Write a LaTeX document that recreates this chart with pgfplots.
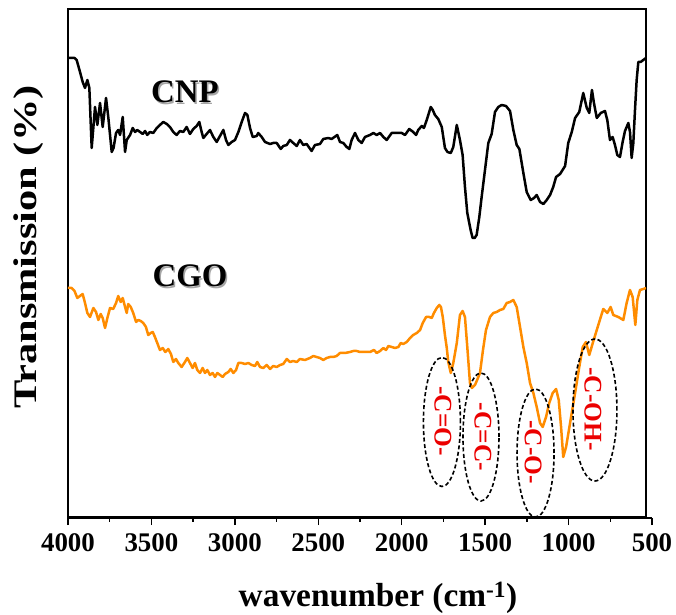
\documentclass[border=0pt]{standalone}
\usepackage{fontspec}
\setmainfont{Liberation Serif}
\usepackage{pgfplots}
\pgfplotsset{compat=1.18}
\usepackage{pgfplotstable}
\definecolor{cgoorange}{RGB}{255,140,0}
\definecolor{bandred}{RGB}{235,0,0}

% FTIR spectrum of CNP (wavenumber in cm^-1, transmission in a.u.)
\pgfplotstableread{
wn T
4000 459
3978 459
3961 459
3948 457
3928 445
3912 435
3898 429
3884 437
3872 429
3858 369
3838 410
3824 392
3808 414
3792 390
3772 419
3758 399
3738 365
3727 369
3712 384
3699 387
3688 382
3672 400
3658 365
3648 377
3628 382
3612 389
3598 385
3585 387
3568 385
3552 383
3538 386
3525 382
3509 385
3489 384
3468 389
3449 392
3429 395
3408 393
3389 390
3369 385
3349 382
3329 386
3309 385
3289 390
3269 383
3249 388
3229 391
3213 395
3199 385
3189 379
3169 383
3149 387
3129 380
3109 375
3089 381
3069 387
3053 377
3039 372
3019 375
2999 377
2979 385
2959 395
2939 404
2925 402
2909 389
2893 380
2869 381
2860 384
2839 380
2819 375
2789 373
2770 374
2749 374
2725 368
2710 371
2689 372
2670 377
2650 374
2629 371
2610 377
2590 372
2570 373
2540 366
2520 372
2490 373
2470 378
2440 379
2420 378
2386 382
2370 375
2350 374
2330 370
2314 368
2300 377
2280 384
2260 377
2240 374
2220 380
2190 382
2170 384
2150 382
2130 384
2110 380
2090 377
2060 384
2030 384
2000 384
1980 382
1955 388
1931 385
1914 382
1901 387
1880 391
1867 389
1850 397
1826 410
1814 407
1801 402
1781 398
1760 390
1741 369
1726 365
1706 364
1691 370
1670 392
1651 377
1635 362
1621 330
1607 304
1587 287
1575 279
1563 279
1551 282
1535 300
1521 320
1501 347
1481 374
1461 383
1441 405
1421 410
1401 412
1375 411
1351 406
1331 387
1311 372
1295 368
1271 344
1251 325
1227 317
1207 319
1191 322
1171 315
1151 313
1131 317
1111 322
1092 330
1075 340
1051 343
1021 351
1002 374
981 385
961 399
936 405
912 424
891 409
876 404
860 427
848 414
831 399
807 404
782 406
768 397
752 377
736 380
722 372
708 362
692 360
676 375
662 386
642 394
632 385
622 359
612 374
602 407
592 437
582 455
568 455
552 457
536 459
}\cnpdata

% FTIR spectrum of CGO
\pgfplotstableread{
wn T
4000 229
3978 229
3961 226
3944 219
3928 221
3912 223
3898 214
3884 204
3868 200
3848 209
3832 205
3818 197
3804 203
3792 199
3778 189
3764 199
3748 209
3729 208
3712 214
3699 221
3684 215
3672 219
3658 210
3648 204
3639 213
3624 210
3609 204
3592 195
3579 197
3564 196
3549 194
3533 190
3519 182
3504 184
3492 185
3479 180
3465 174
3449 167
3432 169
3417 165
3399 168
3383 163
3369 155
3353 158
3339 154
3319 150
3299 155
3285 159
3269 154
3253 149
3239 154
3225 147
3209 144
3193 149
3179 144
3165 147
3149 142
3133 144
3119 140
3105 144
3089 142
3073 140
3059 143
3039 145
3025 148
3009 144
2993 147
2979 154
2959 154
2939 153
2919 154
2899 152
2879 151
2866 155
2849 150
2830 149
2809 152
2789 148
2770 151
2749 150
2729 152
2710 153
2689 158
2670 155
2650 156
2629 155
2610 158
2580 157
2550 159
2530 161
2510 160
2490 159
2470 157
2450 159
2430 160
2410 160
2390 161
2370 164
2340 164
2310 165
2290 166
2270 166
2250 165
2230 165
2210 165
2190 165
2166 167
2150 164
2130 166
2110 169
2094 167
2080 171
2060 170
2040 169
2020 170
2006 174
1991 173
1970 175
1950 179
1931 182
1910 184
1890 187
1874 194
1854 200
1835 200
1820 199
1807 204
1790 209
1775 212
1765 210
1754 200
1741 182
1730 169
1721 155
1706 144
1691 154
1670 174
1651 202
1635 206
1621 200
1607 170
1591 134
1579 129
1561 132
1543 139
1531 144
1513 167
1495 187
1471 200
1451 204
1431 205
1411 207
1391 208
1371 214
1351 215
1331 217
1311 210
1291 190
1271 170
1251 154
1231 134
1211 124
1191 110
1171 94
1155 90
1135 100
1116 114
1095 124
1075 128
1059 117
1045 90
1032 60
1015 70
991 94
961 124
936 150
915 170
896 175
876 162
855 174
831 187
807 200
792 208
768 204
748 210
732 202
702 200
672 197
652 214
632 227
616 220
600 192
588 217
572 227
552 228
536 229
}\cgodata

\begin{document}
\begin{tikzpicture}[x=1bp,y=1bp]
\path[use as bounding box] (-68,-98) rectangle (608,517);

% framed plot area with the two spectra
\begin{axis}[
  at={(0,0)}, anchor=south west,
  scale only axis, width=578bp, height=508bp,
  xmin=536, xmax=4000, x dir=reverse,
  ymin=0, ymax=508,
  xtick=\empty, ytick=\empty,
  axis line style={line width=2.8bp},
]
\addplot[black, line width=2.5bp, line join=round] table[x=wn, y=T] {\cnpdata};
\addplot[cgoorange, line width=2.5bp, line join=round] table[x=wn, y=T] {\cgodata};

% band assignments
\begin{scope}[black, line width=1.6bp, dash pattern=on 4bp off 2.5bp]
  \draw (axis cs:1759,95) ellipse [x radius=18.5bp, y radius=64.5bp];
  \draw (axis cs:1525,80) ellipse [x radius=18bp, y radius=64bp];
  \draw (axis cs:1198,64) ellipse [x radius=18.5bp, y radius=64bp];
  \draw (axis cs:842,107) ellipse [x radius=22bp, y radius=71bp];
\end{scope}
\begin{scope}[every node/.style={text=bandred, rotate=-90, inner sep=0pt,
    font=\fontsize{25.5}{25.5}\selectfont\bfseries}]
  \node at (axis cs:1753,96) {-C=O-};
  \node at (axis cs:1513,80) {-C=C-};
  \node at (axis cs:1213,65) {-C-O-};
  \node at (axis cs:854,108) {-C-OH-};
\end{scope}
\end{axis}

% wavenumber scale below the frame
\begin{axis}[
  at={(0,-5)}, anchor=south west,
  scale only axis, width=584bp, height=20bp,
  xmin=500, xmax=4000, x dir=reverse,
  ymin=0, ymax=1,
  axis x line=bottom, axis y line=none,
  x axis line style={-, line width=1.4bp},
  xtick={500,1000,...,4000},
  minor xtick={750,1250,...,3750},
  tick align=outside,
  major tick length=7bp, minor tick length=4bp,
  every tick/.style={black, line width=1.4bp},
  xticklabel style={font=\fontsize{27}{27}\selectfont\bfseries, inner sep=0pt, anchor=north, yshift=-8bp},
  /pgf/number format/assume math mode=true,
  /pgf/number format/1000 sep={},
]
\end{axis}

\node[font=\fontsize{33.5}{33.5}\selectfont\bfseries] at (310,-81) {wavenumber (cm\textsuperscript{-1})};
\node[rotate=90, font=\fontsize{33}{33}\selectfont\bfseries] at (-39,270) {\scalebox{1.29}[1]{Transmission (\%)}};

% series names with a soft shadow
\node[text=black!35, font=\fontsize{33}{33}\selectfont\bfseries] at (118.5,423.5) {CNP};
\node[font=\fontsize{33}{33}\selectfont\bfseries] at (117,425) {CNP};
\node[text=black!35, font=\fontsize{33}{33}\selectfont\bfseries] at (123.5,239.5) {CGO};
\node[font=\fontsize{33}{33}\selectfont\bfseries] at (122,241) {CGO};
\end{tikzpicture}
\end{document}
